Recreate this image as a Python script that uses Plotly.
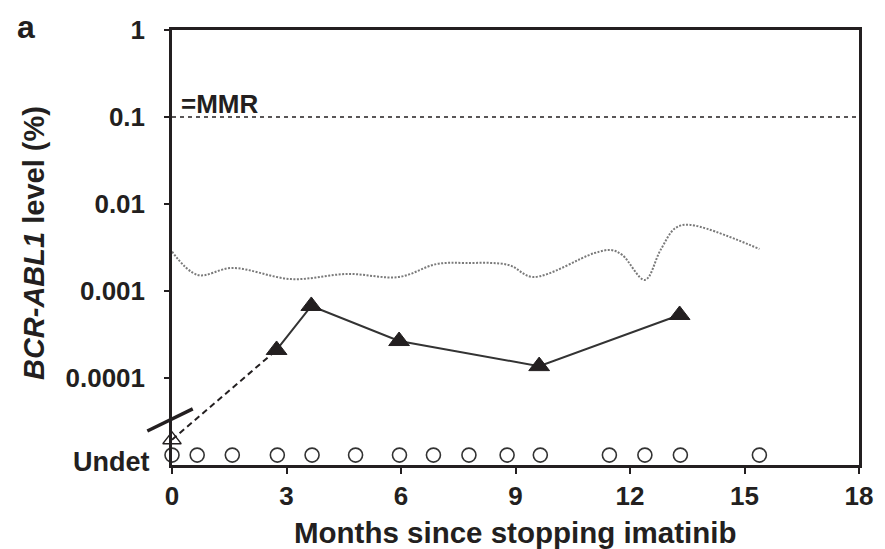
import numpy as np
import plotly.graph_objects as go

# ---------------- data ----------------
X_TICKS = [0, 3, 6, 9, 12, 15, 18]
Y_TICK_VALS = [1, 0.1, 0.01, 0.001, 0.0001]
Y_TICK_TEXT = ["1", "0.1", "0.01", "0.001", "0.0001"]

MMR_LEVEL = 0.1
UNDET_LEVEL = 1.3e-5

# smoothed dotted reference curve
CURVE_X = [0, 0.67, 1.58, 3.13, 4.6, 5.95, 6.93, 7.7, 8.82, 9.46, 11.07, 11.5, 11.8,
           12.39, 12.8, 13.19, 13.58, 15.39]
CURVE_Y = [0.00283, 0.00153, 0.00184, 0.00137, 0.00157, 0.00145, 0.00204, 0.0021,
           0.00199, 0.00145, 0.00273, 0.00296, 0.00259, 0.00134, 0.00296, 0.0053,
           0.00575, 0.00304]

# detectable measurements (filled triangles)
DET_X = [2.74, 3.65, 5.95, 9.62, 13.3]
DET_Y = [0.00021, 0.000673, 0.000266, 0.000137, 0.00053]

# open triangle at baseline
OPEN_X = [0]
OPEN_Y = [1.95e-5]

# undetectable measurements (open circles)
UNDET_X = [0, 0.66, 1.58, 2.76, 3.67, 4.81, 5.96, 6.85, 7.78, 8.78, 9.65,
           11.46, 12.39, 13.32, 15.39]

# axis-break mark (months, level)
BREAK_X = [-0.646, 0.543]
BREAK_Y = [2.46e-5, 4.41e-5]

X_RANGE = [0, 18]
Y_LOG_RANGE = [-5, 0]

INK = "#231f20"
FONT = "Liberation Sans, Arial, sans-serif"

fig = go.Figure()

# MMR dashed line
fig.add_trace(go.Scatter(x=X_RANGE, y=[MMR_LEVEL, MMR_LEVEL], mode="lines",
                         line=dict(color=INK, width=1.3, dash="4px,4px"),
                         hoverinfo="skip", showlegend=False))

# dotted grey curve
fig.add_trace(go.Scatter(x=CURVE_X, y=CURVE_Y, mode="lines",
                         line=dict(color="#7a7a7a", width=2, dash="2px,1.5px",
                                   shape="spline", smoothing=1.0),
                         showlegend=False))

# dashed link from open triangle to first filled triangle
fig.add_trace(go.Scatter(x=[OPEN_X[0], DET_X[0]], y=[OPEN_Y[0], DET_Y[0]], mode="lines",
                         line=dict(color=INK, width=2, dash="6px,4px"),
                         showlegend=False, cliponaxis=False))

# solid line with filled triangles
fig.add_trace(go.Scatter(x=DET_X, y=DET_Y, mode="lines+markers",
                         line=dict(color="#333333", width=2),
                         marker=dict(symbol="triangle-up", size=18, color=INK,
                                     line=dict(color=INK, width=1)),
                         showlegend=False, cliponaxis=False))

# open triangle
fig.add_trace(go.Scatter(x=OPEN_X, y=OPEN_Y, mode="markers",
                         marker=dict(symbol="triangle-up-open", size=16, color=INK,
                                     line=dict(color=INK, width=1.3)),
                         showlegend=False, cliponaxis=False))

# undetectable circles
fig.add_trace(go.Scatter(x=UNDET_X, y=[UNDET_LEVEL] * len(UNDET_X), mode="markers",
                         marker=dict(symbol="circle-open", size=14, color="#333333",
                                     line=dict(color="#333333", width=1.6)),
                         showlegend=False, cliponaxis=False))

# axis-break mark as a paper-referenced shape (so it is not clipped)
def to_paper_x(v):
    return (v - X_RANGE[0]) / (X_RANGE[1] - X_RANGE[0])

def to_paper_y(v):
    return (np.log10(v) - Y_LOG_RANGE[0]) / (Y_LOG_RANGE[1] - Y_LOG_RANGE[0])

fig.add_shape(type="line", xref="paper", yref="paper",
              x0=to_paper_x(BREAK_X[0]), y0=to_paper_y(BREAK_Y[0]),
              x1=to_paper_x(BREAK_X[1]), y1=to_paper_y(BREAK_Y[1]),
              line=dict(color=INK, width=3.5), layer="above")

tickfont = dict(family=FONT, size=26, color=INK, weight="bold")

fig.update_xaxes(range=X_RANGE, tickvals=X_TICKS, ticks="outside", ticklen=6,
                 tickwidth=2, tickcolor=INK, showline=True, linecolor=INK, linewidth=2.5,
                 mirror=True, showgrid=False, zeroline=False, tickfont=tickfont,
                 ticklabelstandoff=0)
fig.update_yaxes(type="log", range=Y_LOG_RANGE, tickvals=Y_TICK_VALS, ticktext=Y_TICK_TEXT,
                 ticks="outside", ticklen=5, tickwidth=2, tickcolor=INK, showline=True,
                 linecolor=INK, linewidth=2.5, mirror=True, showgrid=False,
                 zeroline=False, tickfont=tickfont, ticklabelstandoff=14)

annotations = [
    dict(text="<b>Months since stopping imatinib</b>", xref="paper", yref="paper",
         x=0.5, y=-0.156, xanchor="center", yanchor="middle", showarrow=False,
         font=dict(family=FONT, size=29.5, color=INK)),
    dict(text="<b><i>BCR-ABL1</i> level (%)</b>", xref="paper", yref="paper",
         x=-0.201, y=0.51, xanchor="center", yanchor="middle", textangle=-90,
         showarrow=False, font=dict(family=FONT, size=29, color=INK)),
    dict(text="<b>a</b>", xref="paper", yref="paper", x=-0.228, y=1.008,
         xanchor="left", yanchor="middle", showarrow=False,
         font=dict(family=FONT, size=32, color=INK)),
    dict(text="<b>=MMR</b>", xref="x", yref="y", x=0.18, y=np.log10(MMR_LEVEL) + 0.15,
         xanchor="left", yanchor="middle", showarrow=False,
         font=dict(family=FONT, size=26, color=INK)),
    dict(text="<b>Undet</b>", xref="paper", yref="paper", x=-0.029, y=0.007,
         xanchor="right", yanchor="middle", showarrow=False,
         font=dict(family=FONT, size=27, color=INK)),
]

fig.update_layout(width=885, height=549, margin=dict(l=172, r=17, t=30, b=84),
                  plot_bgcolor="white", paper_bgcolor="white",
                  annotations=annotations, showlegend=False)

fig.write_html("out.html")
